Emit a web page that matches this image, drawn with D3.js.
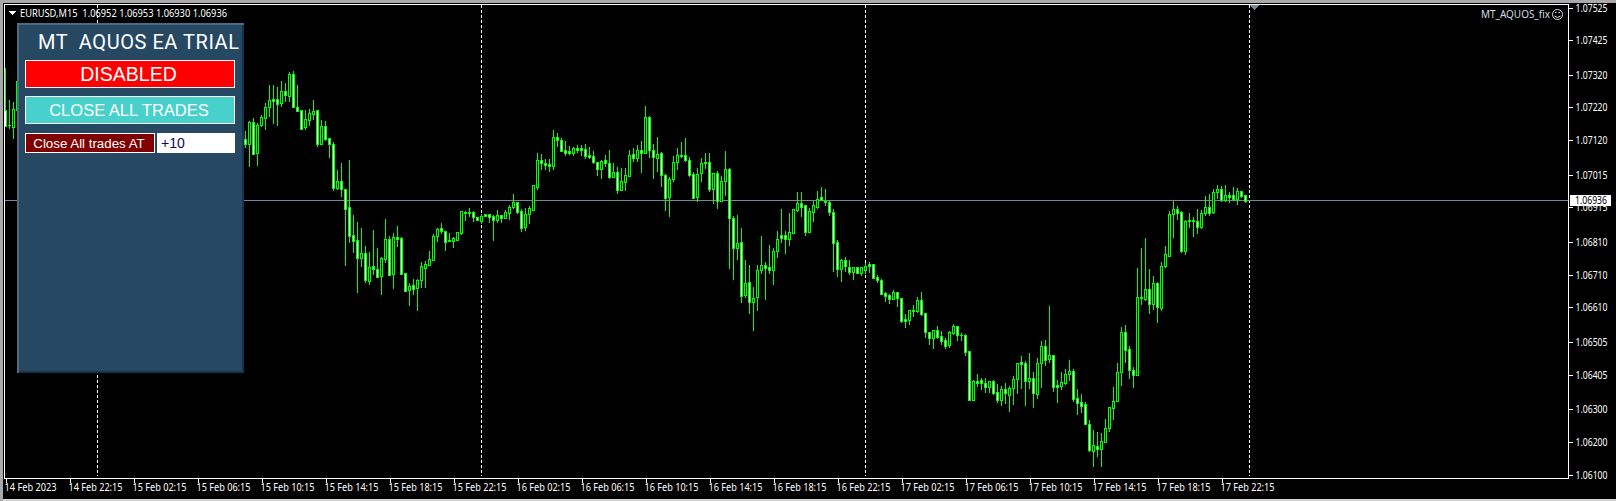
<!DOCTYPE html>
<html>
<head>
<meta charset="utf-8">
<script src="https://cdn.jsdelivr.net/npm/d3@7/dist/d3.min.js"></script>
<style>
  html, body { margin: 0; padding: 0; background: #000; overflow: hidden; }
  svg { display: block; }
  .axis text { font-family: "Noto Sans", sans-serif; font-size: 11px; fill: #fff; }
  .axis line, .axis path { stroke: #fff; }
</style>
</head>
<body>
<div class="chart_view"></div>
<script>
// EURUSD M15, all prices in points (1e-5)
// bars 0-3 sit left of the panel, bars 4-59 are hidden behind it
var barIndex = d3.range(0, 4).concat(d3.range(60, 311));

var opens = [
  107212,107166,107160,107212,
  107123,107107,107175,107081,107165,107189,107222,107245,107245,107235,
  107269,107256,107322,107221,107211,107159,107183,107201,107211,107110,
  107163,107126,107108,106975,106995,106970,106915,106830,106815,106762,
  106775,106689,106735,106728,106707,106757,106818,106713,106824,106821,
  106714,106664,106677,106670,106692,106731,106739,106756,106829,106851,
  106842,106815,106811,106817,106837,106901,106899,106900,106885,106874,
  106895,106894,106888,106878,106891,106884,106899,106915,106931,106903,
  106856,106894,106908,106978,107061,107049,107047,107042,107129,107122,
  107089,107086,107081,107095,107095,107092,107075,107071,107055,107033,
  107059,107052,107009,107022,106969,106993,107012,107077,107066,107089,
  107082,107190,107089,107067,107080,107013,106948,107002,107054,107075,
  107074,107061,107016,106948,107019,107055,107055,106972,107019,106935,
  106996,107031,106884,106792,106808,106648,106686,106627,106642,106724,
  106738,106732,106725,106782,106830,106830,106819,106838,106908,106927,
  106921,106841,106902,106917,106946,106934,106930,106900,106808,106728,
  106753,106734,106719,106732,106716,106725,106741,106741,106703,106695,
  106653,106647,106636,106656,106640,106573,106572,106602,106599,106631,
  106592,106534,106517,106540,106522,106509,106495,106532,106552,106527,
  106525,106476,106328,106385,106387,106378,106368,106384,106351,106328,
  106360,106343,106365,106390,106443,106439,106386,106393,106347,106439,
  106491,106452,106464,106372,106371,106379,106406,106415,106332,106320,
  106314,106255,106173,106186,106179,106200,106243,106304,106325,106412,
  106534,106482,106418,106405,106642,106635,106665,106621,106683,106609,
  106735,106768,106894,106909,106900,106783,106876,106876,106875,106856,
  106899,106915,106900,106961,106970,106937,106952,106952,106942,106964,
  106952
];
var highs = [
  107340,107243,107237,107301,
  107148,107179,107187,107172,107197,107235,107289,107289,107282,107300,
  107296,107327,107330,107289,107212,107211,107214,107243,107211,107182,
  107179,107128,107114,107029,107051,106970,107060,106892,106871,106852,
  106797,106779,106846,106791,106765,106880,106827,106837,106858,106824,
  106714,106684,106697,106696,106749,106752,106782,106834,106851,106866,
  106844,106837,106826,106839,106903,106905,106912,106905,106885,106895,
  106895,106895,106892,106907,106892,106907,106923,106955,106933,106911,
  106912,106919,106982,107080,107078,107064,107062,107150,107142,107126,
  107117,107102,107098,107105,107105,107108,107099,107087,107055,107059,
  107075,107090,107049,107038,107035,107034,107090,107095,107105,107117,
  107224,107194,107108,107130,107083,107016,107008,107072,107096,107114,
  107127,107068,107022,107036,107066,107080,107080,107019,107026,107011,
  107087,107034,106889,106892,106851,106753,106738,106672,106738,106828,
  106748,106800,106790,106843,106910,106843,106898,106909,106961,106962,
  106922,106913,106935,106965,106976,106971,106937,106910,106815,106759,
  106763,106754,106732,106732,106732,106746,106747,106741,106708,106698,
  106656,106650,106662,106657,106640,106590,106601,106617,106642,106657,
  106592,106535,106541,106553,106537,106517,106537,106559,106553,106531,
  106529,106476,106388,106407,106393,106393,106384,106388,106376,106370,
  106378,106371,106401,106441,106461,106446,106471,106413,106455,106506,
  106510,106614,106464,106388,106413,106421,106449,106421,106361,106346,
  106321,106266,106236,106230,106226,106269,106305,106366,106439,106549,
  106556,106491,106429,106730,106790,106821,106727,106705,106686,106747,
  106796,106903,106935,106919,106903,106876,106898,106886,106909,106907,
  106950,106956,106971,106983,106980,106983,106961,106976,106974,106964,
  106953
];
var lows = [
  107163,107157,107127,107212,
  107098,107042,107078,107045,107164,107154,107194,107174,107165,107225,
  107241,107240,107220,107209,107154,107155,107167,107184,107103,107108,
  107121,107069,106968,106972,106950,106740,106810,106779,106657,106736,
  106687,106681,106712,106703,106651,106749,106709,106669,106797,106712,
  106661,106617,106650,106602,106672,106671,106738,106754,106813,106836,
  106785,106811,106794,106816,106835,106877,106889,106874,106877,106867,
  106890,106869,106816,106869,106869,106882,106881,106914,106899,106843,
  106846,106868,106908,106971,107033,107033,107026,107032,107102,107086,
  107075,107079,107075,107084,107075,107067,107066,107051,107014,107004,
  107040,107004,107007,106960,106968,106968,107011,107056,107056,107024,
  107080,107070,107006,107026,106980,106907,106889,106996,107032,107069,
  107057,107012,106944,106935,106995,107035,106966,106927,106913,106935,
  106952,106730,106696,106757,106626,106642,106593,106541,106602,106716,
  106635,106715,106681,106763,106809,106776,106801,106837,106905,106889,
  106832,106840,106874,106913,106937,106922,106892,106721,106706,106690,
  106721,106712,106696,106715,106709,106716,106719,106700,106688,106651,
  106629,106623,106635,106614,106566,106550,106559,106585,106597,106588,
  106520,106498,106487,106517,106498,106486,106490,106530,106510,106511,
  106465,106327,106327,106370,106362,106353,106351,106346,106322,106312,
  106317,106294,106315,106349,106364,106312,106364,106306,106333,106367,
  106434,106443,106355,106321,106361,106376,106388,106324,106285,106291,
  106253,106173,106126,106156,106126,106200,106234,106269,106325,106373,
  106443,106394,106367,106404,106620,106632,106593,106605,106565,106602,
  106733,106767,106825,106879,106780,106773,106854,106828,106836,106852,
  106892,106892,106899,106943,106935,106935,106931,106937,106925,106948,
  106930
];
var closes = [
  107163,107165,107215,107301,
  107107,107176,107079,107167,107190,107221,107242,107241,107232,107269,
  107259,107322,107220,107210,107155,107184,107202,107208,107110,107163,
  107125,107107,106975,106995,106972,106911,106829,106814,106762,106775,
  106692,106732,106726,106704,106760,106818,106710,106824,106820,106713,
  106661,106674,106667,106693,106735,106742,106757,106827,106848,106842,
  106808,106811,106822,106839,106903,106899,106901,106887,106878,106890,
  106890,106887,106878,106891,106884,106900,106915,106931,106902,106853,
  106894,106912,106982,107061,107049,107044,107041,107129,107121,107088,
  107082,107082,107095,107091,107091,107073,107069,107054,107033,107058,
  107051,107009,107022,106969,106997,107013,107074,107067,107089,107082,
  107190,107089,107070,107077,107015,106944,107003,107055,107074,107071,
  107061,107014,106944,107016,107049,107051,106971,107019,106935,106997,
  107031,106883,106792,106805,106645,106683,106627,106640,106723,106738,
  106731,106725,106781,106820,106822,106819,106839,106909,106927,106917,
  106841,106903,106921,106942,106937,106932,106902,106807,106727,106754,
  106737,106719,106732,106716,106732,106737,106737,106700,106694,106652,
  106646,106636,106656,106639,106569,106569,106601,106599,106631,106591,
  106536,106517,106540,106520,106508,106493,106534,106552,106527,106525,
  106475,106328,106385,106380,106378,106368,106384,106350,106327,106360,
  106348,106365,106390,106439,106438,106386,106393,106348,106439,106491,
  106450,106464,106368,106368,106381,106406,106415,106331,106319,106310,
  106255,106174,106189,106179,106201,106241,106305,106323,106412,106534,
  106481,106420,106405,106641,106638,106665,106621,106683,106612,106735,
  106772,106894,106909,106899,106783,106875,106873,106873,106854,106897,
  106915,106899,106961,106970,106937,106952,106946,106942,106964,106950,
  106936
];

var priceTicks = [107525,107425,107320,107220,107120,107015,106915,106810,106710,106610,106505,106405,106300,106200,106100];
var lastPrice = 106936;
var timeTicks = d3.range(0, 320, 16);
var timeLabels = [
  "14 Feb 2023","14 Feb 22:15","15 Feb 02:15","15 Feb 06:15","15 Feb 10:15","15 Feb 14:15","15 Feb 18:15","15 Feb 22:15",
  "16 Feb 02:15","16 Feb 06:15","16 Feb 10:15","16 Feb 14:15","16 Feb 18:15","16 Feb 22:15",
  "17 Feb 02:15","17 Feb 06:15","17 Feb 10:15","17 Feb 14:15","17 Feb 18:15","17 Feb 22:15"
];
// period separators, midnight bars
var dayBars = [23, 119, 215, 311];

var width = 1616, height = 501;
var frame = { left: 4, top: 4, right: 1568, bottom: 478 };
var smallFont = "Noto Sans, sans-serif";

var x = d3.scaleLinear().domain([0, 311]).range([5, 1249]);
var y = d3.scaleLinear().domain([106100, 107525]).range([474.5, 7.5]);
var green = "#00ff00";

var svg = d3.select(".chart_view").append("svg")
  .attr("width", width)
  .attr("height", height)
  .attr("shape-rendering", "crispEdges");

svg.append("rect").attr("width", width).attr("height", height).attr("fill", "#000");

// window chrome around the chart
svg.append("rect").attr("width", width).attr("height", 3).attr("fill", "#a9a9a9");
svg.append("rect").attr("y", 499).attr("width", width).attr("height", 2).attr("fill", "#d4d4d4");
svg.append("rect").attr("width", 3).attr("height", height).attr("fill", "#a9a9a9");

svg.selectAll(".sep").data(dayBars).enter().append("line")
  .attr("class", "sep")
  .attr("x1", function (d) { return x(d) + 0.5; })
  .attr("x2", function (d) { return x(d) + 0.5; })
  .attr("y1", 5)
  .attr("y2", 476)
  .attr("stroke", "#fff")
  .attr("stroke-dasharray", "3,2");

svg.append("line")
  .attr("x1", frame.left)
  .attr("x2", frame.right)
  .attr("y1", Math.floor(y(lastPrice)) + 0.5)
  .attr("y2", Math.floor(y(lastPrice)) + 0.5)
  .attr("stroke", "#778899");

// candles
var bars = svg.selectAll(".bar").data(barIndex).enter().append("g").attr("class", "bar");
bars.append("rect")
  .attr("x", function (d) { return x(d); })
  .attr("y", function (d, i) { return Math.round(y(highs[i])); })
  .attr("width", 1)
  .attr("height", function (d, i) { return Math.round(y(lows[i])) - Math.round(y(highs[i])) + 1; })
  .attr("fill", green);
bars.append("rect")
  .attr("x", function (d) { return x(d) - 1; })
  .attr("y", function (d, i) { return Math.round(y(Math.max(opens[i], closes[i]))); })
  .attr("width", 3)
  .attr("height", function (d, i) {
    return Math.round(y(Math.min(opens[i], closes[i]))) - Math.round(y(Math.max(opens[i], closes[i]))) + 1;
  })
  .attr("fill", green);
bars.append("rect")
  .attr("x", function (d) { return x(d); })
  .attr("y", function (d, i) { return Math.round(y(Math.max(opens[i], closes[i]))) + 1; })
  .attr("width", 1)
  .attr("height", function (d, i) {
    return Math.max(0, Math.round(y(Math.min(opens[i], closes[i]))) - Math.round(y(Math.max(opens[i], closes[i]))) - 1);
  })
  .attr("fill", function (d, i) { return closes[i] > opens[i] ? "#000" : "#fff"; });

// axes, labels squeezed to the narrow width of the terminal font
var xAxis = svg.append("g")
  .attr("class", "axis")
  .attr("transform", "translate(0," + (frame.bottom + 0.5) + ")")
  .call(d3.axisBottom(x)
    .tickValues(timeTicks)
    .tickFormat(function (d, i) { return timeLabels[i]; })
    .tickSize(4)
    .tickPadding(1)
    .tickSizeOuter(0));
xAxis.select(".domain").remove();
xAxis.selectAll(".tick line").attr("transform", "translate(0.5,0)");
xAxis.selectAll("text")
  .attr("text-anchor", "start")
  .attr("dx", -1)
  .attr("textLength", function (d, i) { return i === 0 ? 52 : 54; })
  .attr("lengthAdjust", "spacingAndGlyphs");

var yAxis = svg.append("g")
  .attr("class", "axis")
  .attr("transform", "translate(" + (frame.right + 0.5) + ",0)")
  .call(d3.axisRight(y)
    .tickValues(priceTicks)
    .tickFormat(function (d) { return (d / 100000).toFixed(5); })
    .tickSize(4)
    .tickPadding(3)
    .tickSizeOuter(0));
yAxis.select(".domain").remove();
yAxis.selectAll("text")
  .attr("textLength", 32)
  .attr("lengthAdjust", "spacingAndGlyphs");

// chart frame
svg.append("rect")
  .attr("x", frame.left + 0.5)
  .attr("y", frame.top + 0.5)
  .attr("width", frame.right - frame.left)
  .attr("height", frame.bottom - frame.top)
  .attr("fill", "none")
  .attr("stroke", "#fff");

// current price flag
svg.append("rect").attr("x", 1570).attr("y", 195).attr("width", 41).attr("height", 11).attr("fill", "#fff");
svg.append("text")
  .attr("x", 1575)
  .attr("y", 204)
  .attr("font-family", smallFont)
  .attr("font-size", 11)
  .attr("textLength", 32)
  .attr("lengthAdjust", "spacingAndGlyphs")
  .attr("fill", "#000")
  .text((lastPrice / 100000).toFixed(5));

// top left caption
svg.append("path").attr("d", "M8,11 L16,11 L12,15 Z").attr("fill", "#fff");
svg.append("text")
  .attr("x", 20)
  .attr("y", 16.5)
  .attr("font-family", smallFont)
  .attr("font-size", 11)
  .attr("textLength", 207)
  .attr("lengthAdjust", "spacingAndGlyphs")
  .attr("fill", "#fff")
  .attr("xml:space", "preserve")
  .text("EURUSD,M15  1.06952 1.06953 1.06930 1.06936");

// top right label and marker
svg.append("text")
  .attr("x", 1481)
  .attr("y", 17.5)
  .attr("font-family", smallFont)
  .attr("font-size", 11)
  .attr("textLength", 69)
  .attr("lengthAdjust", "spacingAndGlyphs")
  .attr("fill", "#d3dde6")
  .text("MT_AQUOS_fix");
svg.append("circle")
  .attr("cx", 1557.5)
  .attr("cy", 14.5)
  .attr("r", 5)
  .attr("fill", "none")
  .attr("stroke", "#d3dde6")
  .attr("shape-rendering", "auto");
svg.append("path")
  .attr("d", "M1554.5,16 Q1557.5,19 1560.5,16 M1555,12.5 h1.5 M1558.5,12.5 h1.5")
  .attr("fill", "none")
  .attr("stroke", "#d3dde6")
  .attr("shape-rendering", "auto");
svg.append("path").attr("d", "M1249,5 L1259,5 L1254,10 Z").attr("fill", "#778899");

// EA panel
var panel = svg.append("g").attr("class", "panel");
panel.append("rect").attr("x", 17).attr("y", 23).attr("width", 227).attr("height", 350).attr("fill", "#4a6b86");
panel.append("rect").attr("x", 19).attr("y", 25).attr("width", 225).attr("height", 348).attr("fill", "#16344e");
panel.append("rect").attr("x", 19).attr("y", 25).attr("width", 223).attr("height", 346).attr("fill", "#274862");
panel.append("text")
  .attr("x", 38)
  .attr("y", 49)
  .attr("font-family", "Roboto, sans-serif")
  .attr("font-size", 20)
  .attr("textLength", 201)
  .attr("lengthAdjust", "spacing")
  .attr("fill", "#fff")
  .attr("xml:space", "preserve")
  .text("MT  AQUOS EA TRIAL");

function button(bx, by, w, h, fill, label, size, tx, anchor, color) {
  panel.append("rect")
    .attr("x", bx + 0.5)
    .attr("y", by + 0.5)
    .attr("width", w - 1)
    .attr("height", h - 1)
    .attr("fill", fill)
    .attr("stroke", "#fff");
  panel.append("text")
    .attr("x", tx)
    .attr("y", by + h / 2)
    .attr("dy", "0.36em")
    .attr("text-anchor", anchor)
    .attr("font-family", "Liberation Sans, Arial, sans-serif")
    .attr("font-size", size)
    .attr("fill", color)
    .text(label);
}
button(25, 60, 210, 28, "#ff0000", "DISABLED", 19.5, 128.5, "middle", "#fff");
button(25, 96, 210, 28, "#48d1cc", "CLOSE ALL TRADES", 16.5, 129, "middle", "#fff");
button(25, 133, 130, 20, "#800000", "Close All trades AT", 13.3, 89, "middle", "#fff");
button(157, 133, 78, 20, "#fff", "+10", 14, 161, "start", "#0a0a50");
</script>
</body>
</html>
